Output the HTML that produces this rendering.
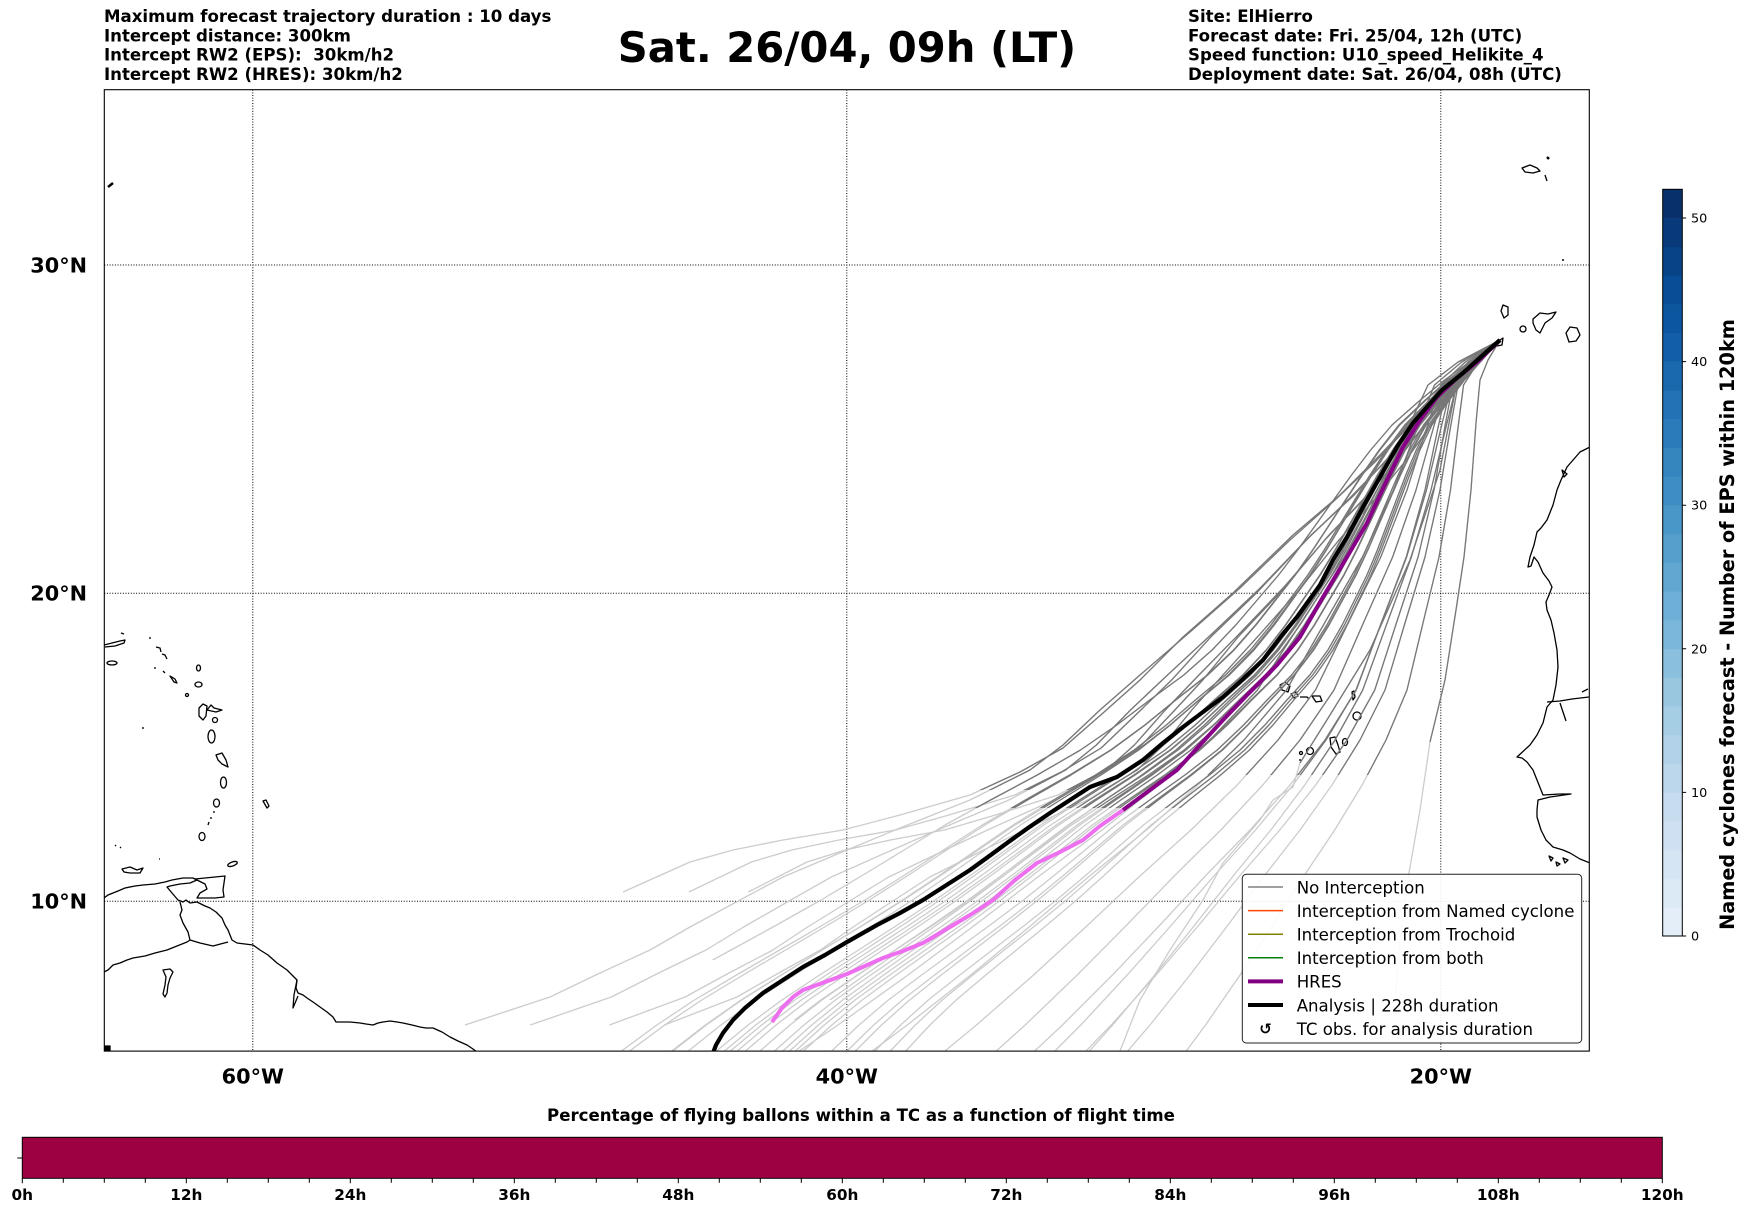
<!DOCTYPE html>
<html><head><meta charset="utf-8"><style>
html,body{margin:0;padding:0;background:#fff;}
svg{display:block;}
text{font-family:"DejaVu Sans","Liberation Sans",sans-serif;fill:#000;}
</style></head><body>
<svg xmlns="http://www.w3.org/2000/svg" width="1748" height="1213" viewBox="0 0 1748 1213">
<defs>
<clipPath id="ax"><rect x="104.3" y="89.7" width="1485" height="961.4"/></clipPath>
<clipPath id="c790"><rect x="0" y="0" width="1748" height="790"/></clipPath>
<clipPath id="c805"><rect x="0" y="0" width="1748" height="808"/></clipPath>
<clipPath id="c775"><rect x="0" y="0" width="1748" height="775"/></clipPath>
<clipPath id="c742"><rect x="0" y="0" width="1748" height="742"/></clipPath>
<clipPath id="c763"><rect x="0" y="0" width="1748" height="763"/></clipPath>
<clipPath id="e960"><rect x="0" y="0" width="1748" height="960"/></clipPath>
<clipPath id="e1000"><rect x="0" y="0" width="1748" height="1000"/></clipPath>
<clipPath id="e1020"><rect x="0" y="0" width="1748" height="1020"/></clipPath>
<path id="BC" fill="none" vector-effect="non-scaling-stroke" d="M1500,340 L1478,360 L1456,380 L1437,400 L1415,425 L1399,450 L1385,475 L1372,500 L1359,525 L1346,550 L1332,575 L1316,600 L1300,625 L1282,650 L1260,675 L1233,700 L1207,725 L1178,750 L1143,775 L1105,800 L1068,825 L1035,850 L1002,875 L968,900 L932,925 L895,950 L858,975 L822,1000 L790,1025 L760,1051 L730,1075"/>
<path id="BU" fill="none" vector-effect="non-scaling-stroke" d="M1500,340 L1470,362 L1445,385 L1415,418 L1380,455 L1340,495 L1293,535 L1233,593 L1183,637 L1140,680 L1103,713 L1063,748 L1020,772 L970,795 L900,815 L843,830 L783,840 L733,850 L690,862 L623,892"/>
<path id="BU2" fill="none" vector-effect="non-scaling-stroke" d="M1500,340 L1470,362 L1440,388 L1410,425 L1375,462 L1335,500 L1290,540 L1240,588 L1190,632 L1140,675 L1100,710 L1063,745 L1030,770 L970,800 L900,828 L847,850 L783,877 L740,900 L690,927 L650,950 L600,973 L550,997 L465,1025"/>
<path id="BR" fill="none" vector-effect="non-scaling-stroke" d="M1500,340 L1475,362 L1458,385 L1450,430 L1440,490 L1425,557 L1405,623 L1385,690 L1360,740 L1332,785 L1300,830 L1265,875 L1228,925 L1190,975 L1150,1025 L1120,1060"/>
<path id="F1" fill="none" d="M1500,340 L1488,360 L1480,380 L1476,423 L1471,490 L1464,557 L1456,610 L1445,680 L1430,742 L1420,810 L1409,873 L1400,940 L1395,1000"/>
<path id="F3" fill="none" d="M1500,340 L1470,365 L1455,392 L1440,470 L1410,560 L1370,650 L1330,715 L1300,763 L1293,787 L1273,800 L1260,820 L1223,863 L1203,900 L1170,950 L1140,1000 L1120,1051"/>
<g id="famU">
<use href="#BU"/>
<use href="#BU" transform="matrix(0.95 0 0.04 1 61.4 0)"/>
<use href="#BU" transform="matrix(0.92 0 0.1 1 86 0)"/>
</g>
<g id="famL">
<use href="#BU2"/>
<use href="#BU2" transform="matrix(0.97 0 0.05 1 28 0)"/>
<use href="#BU2" transform="matrix(0.92 0 0.09 1 89.4 0)"/>
<use href="#BU2" transform="matrix(0.9 0 0.14 1 102.4 0)"/>
</g>
<g id="famC">
<use href="#BC"/>
<use href="#BC" transform="matrix(0.97 0 0.03 1 34.8 0)"/>
<use href="#BC" transform="matrix(1.03 0 -0.03 1 -34.8 0)"/>
<use href="#BC" transform="matrix(0.94 0 0.06 1 69.6 0)"/>
<use href="#BC" transform="matrix(1.06 0 -0.06 1 -69.6 0)"/>
<use href="#BC" transform="matrix(0.98 0 0.08 1 2.8 0)"/>
<use href="#BC" transform="matrix(1.02 0 -0.08 1 -2.8 0)"/>
<use href="#BC" transform="matrix(0.92 0 0.1 1 86 0)"/>
<use href="#BC" transform="matrix(1.08 0 -0.1 1 -86 0)"/>
<use href="#BC" transform="matrix(0.95 0 -0.02 1 81.8 0)"/>
<use href="#BC" transform="matrix(1.05 0 0.02 1 -81.8 0)"/>
<use href="#BC" transform="matrix(0.9 0 0.03 1 139.8 0)"/>
<use href="#BC" transform="matrix(1.1 0 -0.02 1 -143.2 0)"/>
<use href="#BC" transform="matrix(0.96 0 0.12 1 19.2 0)"/>
<use href="#BC" transform="matrix(1 0 0.05 1 -17 0)"/>
<use href="#BC" transform="matrix(1 0 -0.05 1 17 0)"/>
<use href="#BC" transform="matrix(0.88 0 0.08 1 152.8 0)"/>
<use href="#BC" transform="matrix(1.12 0 -0.07 1 -156.2 0)"/>
<use href="#BC" transform="matrix(0.99 0 0.01 1 11.6 0)"/>
<use href="#BC" transform="matrix(1.01 0 -0.01 1 -11.6 0)"/>
<use href="#BC" transform="matrix(0.96 0 0 1 60 0)"/>
<use href="#BC" transform="matrix(1.04 0 0 1 -60 0)"/>
</g>
<use id="ce1" href="#BC" transform="matrix(1.15 0 -0.12 1 -184.2 0)"/>
<use id="ce2" href="#BC" transform="matrix(0.93 0 -0.06 1 125.4 0)"/>
<use id="ce3" href="#BC" transform="matrix(1.07 0 0.07 1 -128.8 0)"/>
<g id="famR">
<use href="#BR"/>
<use href="#BR" transform="matrix(1.1 0 -0.05 1 -133 0)"/>
<use href="#BR" transform="matrix(0.9 0 0.03 1 139.8 0)"/>
<use href="#BR" transform="matrix(1.2 0 -0.08 1 -272.8 0)"/>
<use href="#BR" transform="matrix(1.3 0 -0.1 1 -416 0)"/>
<use href="#BR" transform="matrix(1.15 0 0.02 1 -231.8 0)"/>
<use href="#BR" transform="matrix(1.4 0 -0.15 1 -549 0)"/>
<use href="#BR" transform="matrix(0.95 0 -0.08 1 102.2 0)"/>
<use href="#BR" transform="matrix(1.25 0 0 1 -375 0)"/>
<use href="#BR" transform="matrix(1.5 0 -0.2 1 -682 0)"/>
</g>
</defs>

<!-- header texts -->
<text x="104" y="22" font-size="16.6" font-weight="bold">Maximum forecast trajectory duration : 10 days</text>
<text x="104" y="41.3" font-size="16.6" font-weight="bold">Intercept distance: 300km</text>
<text x="104" y="60.7" font-size="16.6" font-weight="bold">Intercept RW2 (EPS):&#160; 30km/h2</text>
<text x="104" y="80" font-size="16.6" font-weight="bold">Intercept RW2 (HRES): 30km/h2</text>
<text x="1188" y="22" font-size="16.6" font-weight="bold">Site: ElHierro</text>
<text x="1188" y="41.3" font-size="16.6" font-weight="bold">Forecast date: Fri. 25/04, 12h (UTC)</text>
<text x="1188" y="60.7" font-size="16.6" font-weight="bold">Speed function: U10_speed_Helikite_4</text>
<text x="1188" y="80" font-size="16.6" font-weight="bold">Deployment date: Sat. 26/04, 08h (UTC)</text>
<text x="847" y="62" font-size="41.7" font-weight="bold" text-anchor="middle">Sat. 26/04, 09h (LT)</text>

<!-- coastlines -->
<g clip-path="url(#ax)" fill="none" stroke="#000" stroke-width="1.3" stroke-linejoin="round">
<path d="M1503,305 L1508,307 L1508,315 L1504,318 L1501,311 Z"/>
<path d="M1497,346 L1500,340 L1503,338 L1502,345 Z"/>
<circle cx="1523" cy="329" r="3"/>
<path d="M1533,319 L1540,313 L1548,314 L1556,312 L1552,318 L1545,323 L1540,333 L1536,330 L1533,323 Z"/>
<path d="M1566,333 L1570,327 L1577,328 L1580,335 L1576,341 L1569,342 Z"/>
<path d="M1522,168 L1530,165 L1537,168 L1540,171 L1533,173 L1525,172 Z"/>
<path d="M1547,157 L1549,159" stroke-width="2.5"/>
<path d="M1545,175 L1547,181"/>
<path d="M1563,259 L1563,261" stroke-width="1.5"/>
<path d="M108,187 L113,183" stroke-width="2.5"/>
<path d="M1590,447 L1580,452 L1567,467 L1561,480 L1557,490 L1553,505 L1547,520 L1541,528 L1537,532 L1534,545 L1530,557 L1528,567 L1531,566 L1534,557 L1538,562 L1543,573 L1549,581 L1552,587 L1549,595 L1546,602 L1547,610 L1551,620 L1554,633 L1557,650 L1558,667 L1556,685 L1553,700 L1547,707 L1543,723 L1537,735 L1530,745 L1517,757 L1522,758 L1527,762 L1533,770 L1537,780 L1541,790 L1543,795 L1560,794 L1571,794 L1550,797 L1538,800 L1537,810 L1537,817 L1541,830 L1546,840 L1553,847 L1563,850 L1570,853 L1580,859 L1590,863"/>
<path d="M1547,702 L1560,701 L1572,699 L1589,697"/>
<path d="M1560,703 L1563,712 L1566,721"/>
<path d="M1582,692 L1588,689"/>
<path d="M1562,470 L1567,474 L1564,477 Z"/>
<path d="M1549,856 L1553,858 L1551,861 Z M1556,862 L1560,864 L1557,866 Z M1563,858 L1568,860 L1565,863 Z"/>
<path d="M1280,685 L1285,682 L1290,686 L1288,692 L1282,690 Z"/>
<path d="M1291,694 L1296,692 L1298,696 L1294,698 Z"/>
<path d="M1300,697 L1307,697 L1309,699"/>
<path d="M1312,696 L1320,696 L1322,701 L1316,702 L1314,699 Z"/>
<path d="M1352,692 L1354,691 L1355,697 L1353,700 Z"/>
<circle cx="1357" cy="716" r="4"/>
<ellipse cx="1345" cy="742" rx="2.5" ry="3.5"/>
<path d="M1330,738 L1335,737 L1338,745 L1340,752 L1336,754 L1331,747 Z"/>
<circle cx="1310" cy="751" r="3.5"/>
<circle cx="1301" cy="753" r="1.5"/>
<path d="M1300,759 L1300,761"/>
<path d="M104,645 L112,643 L120,641 L125,640 L124,643 L115,646 L105,647"/>
<ellipse cx="112" cy="663" rx="5" ry="2"/>
<path d="M121,633 L124,634"/>
<path d="M150,637 L150,639 M156,647 L160,648 L161,652 M162,654 L165,655 L167,659 M155,667 L155,669 M163,671 L165,673"/>
<path d="M170,676 L175,679 L177,683 L174,682 Z"/>
<ellipse cx="198.5" cy="668" rx="2" ry="3"/>
<ellipse cx="198.5" cy="684.5" rx="3.5" ry="2.5"/>
<circle cx="187" cy="695" r="1.5"/>
<path d="M199,708 L203,704 L207,706 L206,716 L203,720 L199,716 Z"/>
<path d="M207,710 L211,705 L214,708 L222,710 L216,712 Z"/>
<circle cx="215" cy="720" r="2.5"/>
<ellipse cx="211.5" cy="736.5" rx="3.5" ry="6.5"/>
<path d="M216,755 L222,753 L226,760 L228,767 L222,764 L218,760 Z"/>
<ellipse cx="223.5" cy="782.5" rx="3" ry="5.5"/>
<ellipse cx="216.5" cy="803" rx="3" ry="4"/>
<path d="M214,811 L214,813 M211,817 L211,819 M209,822 L208,825"/>
<ellipse cx="202" cy="836.5" rx="3" ry="4"/>
<path d="M263,801 L266,800 L269,806 L267,808 Z"/>
<ellipse cx="232.5" cy="864" rx="5" ry="2" transform="rotate(-20 232.5 864)"/>
<path d="M143,727 L143,729 M115,845 L116,846 M120,847 L121,848 M159,859 L160,859"/>
<path d="M122,869 L130,867 L137,870 L143,868 L140,873 L130,873 L124,872 Z"/>
<path d="M104,898 L108,895 L113,893 L118,891 L125,888 L135,886 L143,885 L155,884 L165,882 L172,880 L183,878 L193,878 L197,880 L190,883 L180,884 L170,886 L167,887 L172,893 L178,900 L183,902 L186,900 L190,903 L197,902 L205,906 L210,908 L216,912 L222,918 L225,925 L228,930 L232,940 L237,943 L245,944 L253,945 L260,950 L268,955 L277,963 L287,970 L297,980 L296,988 L298,993 L303,995 L307,998 L313,1002 L320,1007 L327,1012 L333,1017 L336,1022 L340,1022 L350,1022 L360,1023 L366,1024 L373,1025 L378,1023 L383,1022 L390,1021 L397,1022 L403,1023 L412,1025 L420,1027 L426,1028 L433,1028 L442,1032 L450,1037 L458,1041 L467,1045 L473,1049 L477,1052"/>
<path d="M297,980 L294,995 L293,1008 L298,996"/>
<path d="M180,902 L182,910 L180,915 L183,923 L188,932 L190,940 L200,943 L213,946 L228,942"/>
<path d="M104,972 L108,970 L113,965 L120,963 L127,960 L133,958 L145,956 L155,953 L167,950 L177,946 L187,942 L190,940"/>
<path d="M163,970 L170,969 L173,972 L170,978 L168,985 L167,993 L165,997 L163,994 L165,985 L166,977 Z"/>
<path d="M195,879 L205,878 L215,877 L225,876 L224,883 L223,890 L224,897 L215,898 L205,898 L197,898 L200,893 L207,889 L205,884 Z"/>
<rect x="105" y="1046" width="5" height="5" fill="#000"/>
</g>

<!-- gridlines -->
<g stroke="#000" stroke-width="1" stroke-dasharray="1 1.65" fill="none">
<path d="M252.8,89.7 V1051 M846.8,89.7 V1051 M1440.8,89.7 V1051"/>
<path d="M104.3,265 H1589.3 M104.3,593.3 H1589.3 M104.3,901.2 H1589.3"/>
</g>

<!-- trajectories light -->
<g clip-path="url(#ax)" fill="none" stroke="#cccccc" stroke-width="1.3" stroke-linejoin="round">
<use href="#famU"/>
<use href="#famL"/>
<use href="#famC"/>
<g clip-path="url(#e960)"><use href="#ce1"/></g>
<g clip-path="url(#e1000)"><use href="#ce2"/></g>
<g clip-path="url(#e1020)"><use href="#ce3"/></g>
<use href="#famR"/>
<use href="#F1"/>
<use href="#F3"/>
</g>
<!-- trajectories dark -->
<g clip-path="url(#ax)" fill="none" stroke="#777777" stroke-width="1.3" stroke-linejoin="round">
<g clip-path="url(#c790)"><use href="#famU"/><use href="#famL"/></g>
<g clip-path="url(#c805)"><use href="#famC"/><use href="#ce1"/><use href="#ce2"/><use href="#ce3"/></g>
<g clip-path="url(#c775)"><use href="#famR"/></g>
<g clip-path="url(#c742)"><use href="#F1"/></g>
<g clip-path="url(#c763)"><use href="#F3"/></g>
</g>
<!-- HRES -->
<g clip-path="url(#ax)" fill="none" stroke-width="4" stroke-linejoin="round" stroke-linecap="butt">
<path stroke="#880088" d="M1500,340 L1497,343 L1477,362 L1457,378 L1437,397 L1420,420 L1403,447 L1387,480 L1367,523 L1347,557 L1323,597 L1300,637 L1277,665 L1250,692 L1223,720 L1200,745 L1177,770 L1150,790 L1123,810"/>
<path stroke="#ee6ef0" d="M1123,810 L1100,826 L1083,840 L1060,852 L1037,863 L1015,880 L993,900 L970,915 L945,930 L923,943 L903,951 L883,958 L865,966 L847,974 L825,982 L803,990 L793,997 L782,1008 L772,1022"/>
<!-- Analysis -->
<path stroke="#000" stroke-width="4.2" d="M1500,340 L1483,355 L1463,373 L1442,390 L1427,407 L1413,423 L1397,447 L1380,477 L1363,507 L1347,537 L1333,560 L1320,585 L1297,617 L1282,635 L1263,660 L1243,679 L1223,697 L1203,712 L1183,727 L1163,743 L1143,760 L1117,777 L1090,787 L1070,800 L1050,813 L1028,828 L1007,843 L988,857 L970,870 L945,886 L923,900 L900,913 L877,925 L847,942 L825,955 L803,967 L783,980 L763,993 L745,1008 L733,1020 L723,1033 L716,1045 L713,1053"/>
</g>

<!-- axes frame -->
<rect x="104.3" y="89.7" width="1485" height="961.4" fill="none" stroke="#000" stroke-width="1.1"/>

<!-- axis labels -->
<g font-size="20.8" font-weight="bold">
<text x="87" y="272.3" text-anchor="end">30°N</text>
<text x="87" y="600.6" text-anchor="end">20°N</text>
<text x="87" y="908.5" text-anchor="end">10°N</text>
<text x="252.8" y="1083.3" text-anchor="middle">60°W</text>
<text x="846.8" y="1083.3" text-anchor="middle">40°W</text>
<text x="1440.8" y="1083.3" text-anchor="middle">20°W</text>
</g>

<!-- legend -->
<rect x="1242.3" y="874.3" width="339.4" height="168.7" rx="4" ry="4" fill="#fff" fill-opacity="0.9" stroke="#222" stroke-width="1"/>
<g fill="none">
<path d="M1248,887 H1283" stroke="#808080" stroke-width="1.5"/>
<path d="M1248,910.6 H1283" stroke="#ff4500" stroke-width="1.5"/>
<path d="M1248,934.2 H1283" stroke="#808000" stroke-width="1.5"/>
<path d="M1248,957.8 H1283" stroke="#008000" stroke-width="1.5"/>
<path d="M1248,981.4 H1283" stroke="#800080" stroke-width="4"/>
<path d="M1248,1005 H1283" stroke="#000" stroke-width="4"/>
</g>
<g font-size="16.6">
<text x="1296.7" y="893.3">No Interception</text>
<text x="1296.7" y="916.9">Interception from Named cyclone</text>
<text x="1296.7" y="940.5">Interception from Trochoid</text>
<text x="1296.7" y="964.1">Interception from both</text>
<text x="1296.7" y="987.7">HRES</text>
<text x="1296.7" y="1011.3">Analysis | 228h duration</text>
<text x="1296.7" y="1034.9">TC obs. for analysis duration</text>
<text x="1265.5" y="1034" font-size="15" font-weight="bold" text-anchor="middle">↺</text>
</g>

<!-- colorbar -->
<g>
<rect x="1662.7" y="907.28" width="19.6" height="29" fill="rgb(227,238,249)"/>
<rect x="1662.7" y="878.56" width="19.6" height="29" fill="rgb(220,234,246)"/>
<rect x="1662.7" y="849.84" width="19.6" height="29" fill="rgb(213,229,244)"/>
<rect x="1662.7" y="821.12" width="19.6" height="29" fill="rgb(206,224,242)"/>
<rect x="1662.7" y="792.40" width="19.6" height="29" fill="rgb(199,220,239)"/>
<rect x="1662.7" y="763.68" width="19.6" height="29" fill="rgb(188,215,236)"/>
<rect x="1662.7" y="734.97" width="19.6" height="29" fill="rgb(177,210,232)"/>
<rect x="1662.7" y="706.25" width="19.6" height="29" fill="rgb(165,205,228)"/>
<rect x="1662.7" y="677.53" width="19.6" height="29" fill="rgb(153,199,224)"/>
<rect x="1662.7" y="648.81" width="19.6" height="29" fill="rgb(138,191,221)"/>
<rect x="1662.7" y="620.09" width="19.6" height="29" fill="rgb(123,183,218)"/>
<rect x="1662.7" y="591.37" width="19.6" height="29" fill="rgb(109,175,214)"/>
<rect x="1662.7" y="562.65" width="19.6" height="29" fill="rgb(97,167,210)"/>
<rect x="1662.7" y="533.93" width="19.6" height="29" fill="rgb(85,159,205)"/>
<rect x="1662.7" y="505.21" width="19.6" height="29" fill="rgb(73,151,201)"/>
<rect x="1662.7" y="476.49" width="19.6" height="29" fill="rgb(62,142,196)"/>
<rect x="1662.7" y="447.78" width="19.6" height="29" fill="rgb(53,133,191)"/>
<rect x="1662.7" y="419.06" width="19.6" height="29" fill="rgb(43,123,186)"/>
<rect x="1662.7" y="390.34" width="19.6" height="29" fill="rgb(34,114,181)"/>
<rect x="1662.7" y="361.62" width="19.6" height="29" fill="rgb(26,104,174)"/>
<rect x="1662.7" y="332.90" width="19.6" height="29" fill="rgb(19,95,167)"/>
<rect x="1662.7" y="304.18" width="19.6" height="29" fill="rgb(12,86,160)"/>
<rect x="1662.7" y="275.46" width="19.6" height="29" fill="rgb(8,77,149)"/>
<rect x="1662.7" y="246.74" width="19.6" height="29" fill="rgb(8,67,135)"/>
<rect x="1662.7" y="218.02" width="19.6" height="29" fill="rgb(8,58,121)"/>
<rect x="1662.7" y="189.30" width="19.6" height="28.72" fill="rgb(8,48,107)"/>
<rect x="1662.7" y="189.3" width="19.6" height="746.7" fill="none" stroke="#000" stroke-width="1"/>
<path d="M1682.3,936 h3.8 M1682.3,792.4 h3.8 M1682.3,648.8 h3.8 M1682.3,505.2 h3.8 M1682.3,361.6 h3.8 M1682.3,218 h3.8" stroke="#000" stroke-width="1"/>
<g font-size="12.8">
<text x="1691" y="940.5">0</text>
<text x="1691" y="796.9">10</text>
<text x="1691" y="653.3">20</text>
<text x="1691" y="509.7">30</text>
<text x="1691" y="366.1">40</text>
<text x="1691" y="222.5">50</text>
</g>
<text transform="translate(1734 624.5) rotate(-90)" font-size="19.3" font-weight="bold" text-anchor="middle">Named cyclones forecast - Number of EPS within 120km</text>
</g>

<!-- bottom bar -->
<text x="861" y="1121" font-size="16.6" font-weight="bold" text-anchor="middle">Percentage of flying ballons within a TC as a function of flight time</text>
<rect x="22.3" y="1137.3" width="1640" height="41" fill="#9e0142" stroke="#000" stroke-width="1"/>
<path d="M17.3,1158 H22.3" stroke="#000" stroke-width="1"/>
<path stroke="#000" stroke-width="1" d="M22.3,1178.3 v5 M186.3,1178.3 v5 M350.3,1178.3 v5 M514.3,1178.3 v5 M678.3,1178.3 v5 M842.3,1178.3 v5 M1006.3,1178.3 v5 M1170.3,1178.3 v5 M1334.3,1178.3 v5 M1498.3,1178.3 v5 M1662.3,1178.3 v5
M63.3,1178.3 v4.5 M104.3,1178.3 v4.5 M145.3,1178.3 v4.5 M227.3,1178.3 v4.5 M268.3,1178.3 v4.5 M309.3,1178.3 v4.5 M391.3,1178.3 v4.5 M432.3,1178.3 v4.5 M473.3,1178.3 v4.5 M555.3,1178.3 v4.5 M596.3,1178.3 v4.5 M637.3,1178.3 v4.5 M719.3,1178.3 v4.5 M760.3,1178.3 v4.5 M801.3,1178.3 v4.5 M883.3,1178.3 v4.5 M924.3,1178.3 v4.5 M965.3,1178.3 v4.5 M1047.3,1178.3 v4.5 M1088.3,1178.3 v4.5 M1129.3,1178.3 v4.5 M1211.3,1178.3 v4.5 M1252.3,1178.3 v4.5 M1293.3,1178.3 v4.5 M1375.3,1178.3 v4.5 M1416.3,1178.3 v4.5 M1457.3,1178.3 v4.5 M1539.3,1178.3 v4.5 M1580.3,1178.3 v4.5 M1621.3,1178.3 v4.5"/>
<g font-size="15.3" font-weight="bold" text-anchor="middle">
<text x="22.3" y="1200">0h</text>
<text x="186.3" y="1200">12h</text>
<text x="350.3" y="1200">24h</text>
<text x="514.3" y="1200">36h</text>
<text x="678.3" y="1200">48h</text>
<text x="842.3" y="1200">60h</text>
<text x="1006.3" y="1200">72h</text>
<text x="1170.3" y="1200">84h</text>
<text x="1334.3" y="1200">96h</text>
<text x="1498.3" y="1200">108h</text>
<text x="1662.3" y="1200">120h</text>
</g>
</svg>
</body></html>
